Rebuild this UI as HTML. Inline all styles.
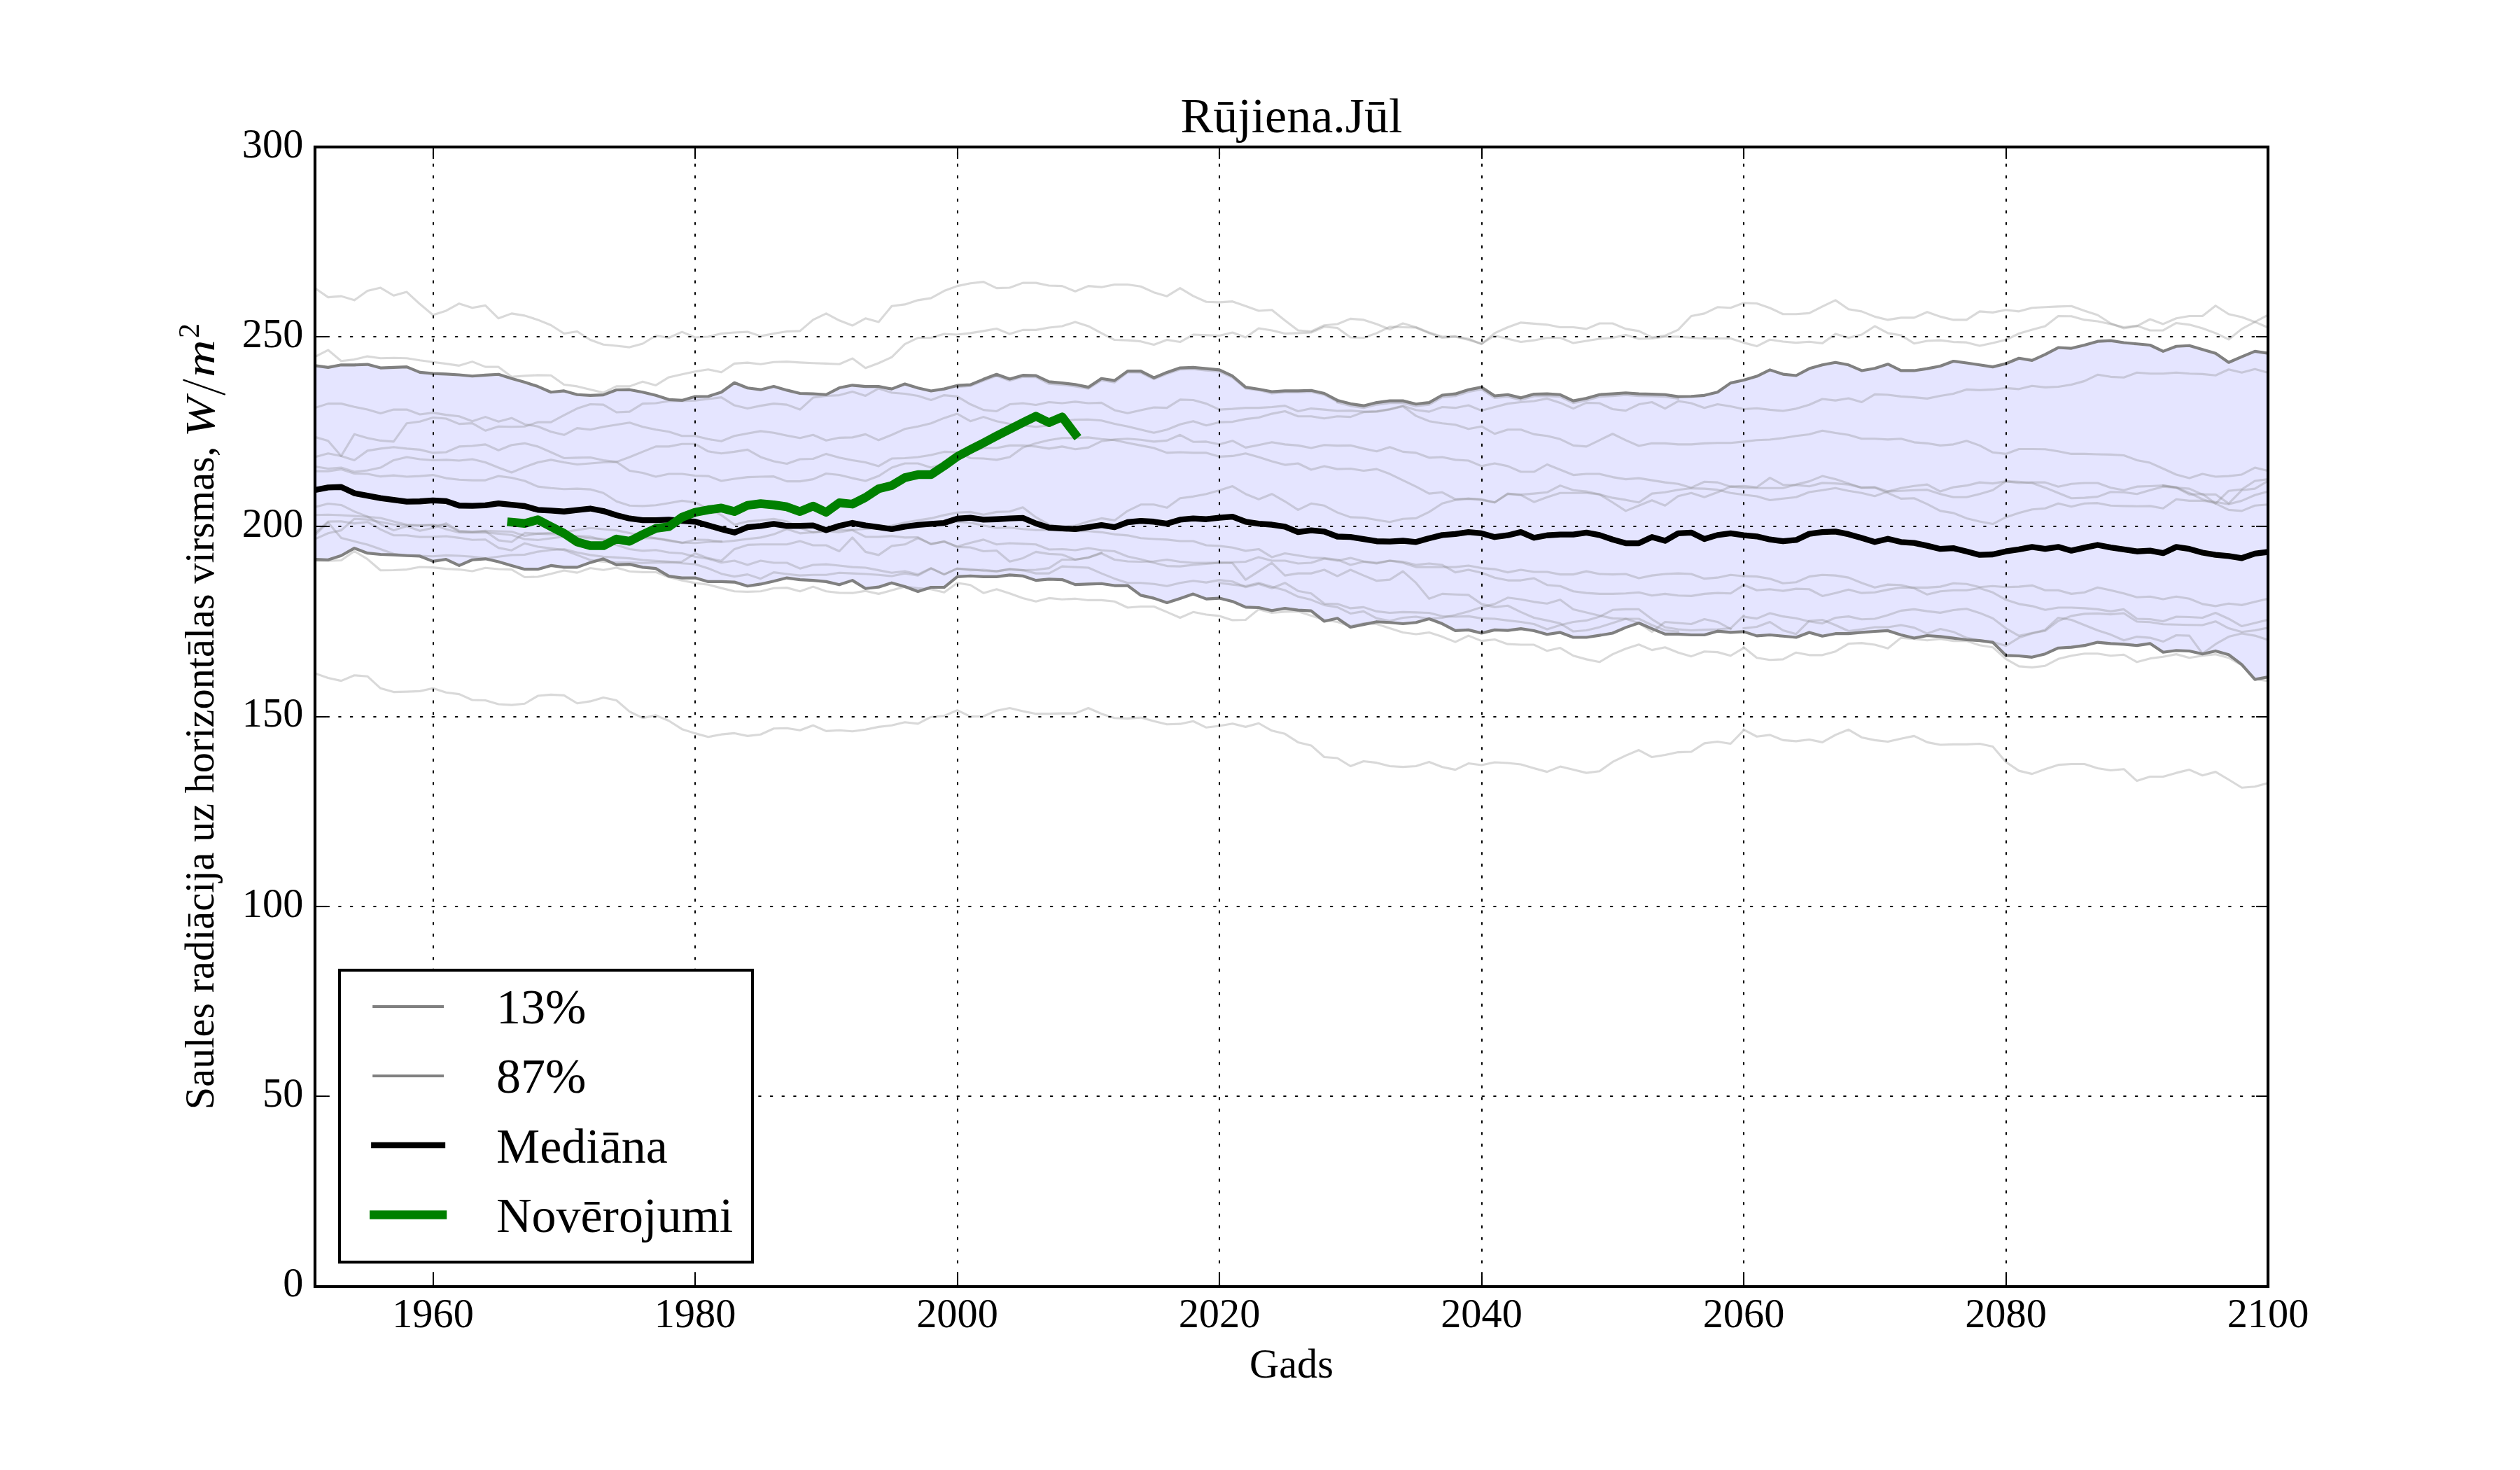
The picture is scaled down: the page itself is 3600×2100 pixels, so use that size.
<!DOCTYPE html>
<html><head><meta charset="utf-8"><title>Rujiena.Jul</title>
<style>html,body{margin:0;padding:0;background:#fff;overflow:hidden;}svg{display:block;}text{-webkit-font-smoothing:antialiased;}.ylab{filter:grayscale(1);}</style>
</head><body>
<svg width="3600" height="2100" viewBox="0 0 3600 2100">
<rect width="3600" height="2100" fill="#fff"/>
<defs><clipPath id="ax"><rect x="450.00" y="210.00" width="2790.00" height="1627.50"/></clipPath></defs>
<g clip-path="url(#ax)">
<path d="M450.00,522.36 L468.72,524.84 L487.45,521.30 L506.17,521.30 L524.90,520.60 L543.62,525.55 L562.35,524.84 L581.07,524.13 L599.80,531.92 L618.52,533.69 L637.25,534.39 L655.97,535.46 L674.70,537.23 L693.42,535.81 L712.15,534.75 L730.87,540.76 L749.60,546.07 L768.32,552.09 L787.05,560.22 L805.77,558.45 L824.50,563.76 L843.22,564.82 L861.95,564.12 L880.67,557.04 L899.40,556.69 L918.12,560.22 L936.85,564.82 L955.57,570.84 L974.30,571.90 L993.02,566.59 L1011.74,566.24 L1030.47,560.22 L1049.19,546.78 L1067.92,554.21 L1086.64,556.69 L1105.37,552.09 L1124.09,557.39 L1142.82,561.99 L1161.54,562.70 L1180.27,563.76 L1198.99,554.03 L1217.72,550.32 L1236.44,552.09 L1255.17,552.09 L1273.89,555.62 L1292.62,548.55 L1311.34,554.21 L1330.07,558.45 L1348.79,555.62 L1367.52,550.67 L1386.24,549.61 L1404.97,541.82 L1423.69,534.75 L1442.42,541.47 L1461.14,536.16 L1479.87,536.52 L1498.59,545.36 L1517.32,547.13 L1536.04,549.26 L1554.77,553.15 L1573.49,540.76 L1592.21,543.59 L1610.94,530.15 L1629.66,530.15 L1648.39,539.70 L1667.11,531.92 L1685.84,525.55 L1704.56,524.84 L1723.29,526.61 L1742.01,528.38 L1760.74,537.23 L1779.46,553.15 L1798.19,555.98 L1816.91,559.52 L1835.64,558.45 L1854.36,558.45 L1873.09,557.75 L1891.81,561.99 L1910.54,571.90 L1929.26,576.85 L1947.99,579.68 L1966.71,575.08 L1985.44,572.61 L2004.16,572.61 L2022.89,577.21 L2041.61,575.08 L2060.34,564.47 L2079.06,562.70 L2097.79,556.69 L2116.51,553.15 L2135.23,565.53 L2153.96,563.76 L2172.68,568.36 L2191.41,563.05 L2210.13,562.70 L2228.86,563.76 L2247.58,572.61 L2266.31,569.07 L2285.03,563.76 L2303.76,562.70 L2322.48,561.28 L2341.21,562.70 L2359.93,563.05 L2378.66,563.76 L2397.38,566.59 L2416.11,566.24 L2434.83,564.82 L2453.56,560.22 L2472.28,547.13 L2491.01,543.06 L2509.73,537.58 L2528.46,528.38 L2547.18,534.57 L2565.91,536.52 L2584.63,526.61 L2603.36,521.30 L2622.08,517.77 L2640.81,521.30 L2659.53,529.44 L2678.26,526.26 L2696.98,520.24 L2715.70,529.44 L2734.43,529.44 L2753.15,526.61 L2771.88,523.07 L2790.60,516.00 L2809.33,518.47 L2828.05,521.30 L2846.78,524.13 L2865.50,519.53 L2884.23,511.75 L2902.95,514.93 L2921.68,506.44 L2940.40,496.54 L2959.13,497.60 L2977.85,493.00 L2996.58,487.69 L3015.30,486.63 L3034.03,489.46 L3052.75,491.23 L3071.48,493.00 L3090.20,501.84 L3108.93,494.77 L3127.65,493.71 L3146.38,499.37 L3165.10,504.67 L3183.83,517.77 L3202.55,509.63 L3221.28,501.84 L3240.00,504.67 L3240.00,967.11 L3221.28,970.65 L3202.55,949.42 L3183.83,935.27 L3165.10,929.96 L3146.38,934.21 L3127.65,929.96 L3108.93,929.26 L3090.20,931.73 L3071.48,919.35 L3052.75,922.18 L3034.03,920.41 L3015.30,919.35 L2996.58,917.58 L2977.85,922.18 L2959.13,924.66 L2940.40,925.72 L2921.68,934.21 L2902.95,938.81 L2884.23,937.04 L2865.50,936.33 L2846.78,917.58 L2828.05,915.10 L2809.33,914.04 L2790.60,911.56 L2771.88,909.44 L2753.15,908.03 L2734.43,911.56 L2715.70,906.96 L2696.98,900.95 L2678.26,902.01 L2659.53,903.43 L2640.81,905.20 L2622.08,905.20 L2603.36,908.73 L2584.63,903.43 L2565.91,910.50 L2547.18,908.73 L2528.46,906.96 L2509.73,908.38 L2491.01,902.36 L2472.28,903.43 L2453.56,901.66 L2434.83,906.96 L2416.11,906.96 L2397.38,905.90 L2378.66,905.90 L2359.93,898.12 L2341.21,889.98 L2322.48,896.35 L2303.76,904.49 L2285.03,907.67 L2266.31,910.50 L2247.58,910.50 L2228.86,903.43 L2210.13,906.26 L2191.41,900.95 L2172.68,898.12 L2153.96,900.60 L2135.23,899.89 L2116.51,904.49 L2097.79,899.89 L2079.06,900.95 L2060.34,891.04 L2041.61,883.97 L2022.89,889.27 L2004.16,891.04 L1985.44,889.27 L1966.71,888.21 L1947.99,892.10 L1929.26,896.00 L1910.54,883.26 L1891.81,887.50 L1873.09,872.64 L1854.36,871.58 L1835.64,869.11 L1816.91,872.29 L1798.19,868.04 L1779.46,867.34 L1760.74,859.20 L1742.01,854.60 L1723.29,855.66 L1704.56,848.58 L1685.84,854.95 L1667.11,860.97 L1648.39,854.60 L1629.66,850.35 L1610.94,836.55 L1592.21,836.55 L1573.49,833.72 L1554.77,834.43 L1536.04,835.14 L1517.32,828.06 L1498.59,827.36 L1479.87,829.12 L1461.14,822.76 L1442.42,821.34 L1423.69,823.82 L1404.97,823.82 L1386.24,822.76 L1367.52,823.82 L1348.79,839.03 L1330.07,839.03 L1311.34,845.05 L1292.62,837.97 L1273.89,832.66 L1255.17,838.68 L1236.44,840.80 L1217.72,829.12 L1198.99,835.32 L1180.27,830.89 L1161.54,829.12 L1142.82,828.06 L1124.09,825.59 L1105.37,830.19 L1086.64,834.43 L1067.92,837.26 L1049.19,831.60 L1030.47,830.89 L1011.74,830.89 L993.02,825.59 L974.30,825.59 L955.57,823.11 L936.85,812.14 L918.12,810.37 L899.40,806.13 L880.67,806.83 L861.95,798.34 L843.22,803.65 L824.50,810.37 L805.77,810.37 L787.05,807.90 L768.32,813.20 L749.60,813.20 L730.87,807.90 L712.15,802.59 L693.42,798.34 L674.70,799.76 L655.97,807.90 L637.25,799.05 L618.52,801.88 L599.80,794.45 L581.07,793.74 L562.35,792.68 L543.62,791.97 L524.90,790.20 L506.17,783.13 L487.45,793.74 L468.72,799.76 L450.00,799.05 Z" fill="#0000ff" fill-opacity="0.1" stroke="none"/>
<path d="M450.00,411.67 L468.72,424.63 L487.45,423.13 L506.17,428.86 L524.90,415.59 L543.62,411.06 L562.35,422.22 L581.07,417.10 L599.80,434.29 L618.52,449.97 L637.25,443.94 L655.97,433.68 L674.70,439.71 L693.42,436.40 L712.15,454.79 L730.87,447.86 L749.60,450.87 L768.32,456.90 L787.05,464.44 L805.77,476.51 L824.50,473.49 L843.22,485.56 L861.95,492.19 L880.67,494.00 L899.40,496.11 L918.12,490.98 L936.85,479.52 L955.57,482.54 L974.30,474.10 L993.02,481.94 L1011.74,481.03 L1030.47,476.51 L1049.19,475.00 L1067.92,474.10 L1086.64,480.13 L1105.37,476.51 L1124.09,473.49 L1142.82,472.89 L1161.54,456.90 L1180.27,447.86 L1198.99,457.81 L1217.72,465.05 L1236.44,454.79 L1255.17,459.92 L1273.89,437.30 L1292.62,434.89 L1311.34,428.86 L1330.07,425.84 L1348.79,415.59 L1367.52,408.65 L1386.24,404.73 L1404.97,402.62 L1423.69,411.67 L1442.42,411.06 L1461.14,404.13 L1479.87,404.13 L1498.59,408.05 L1517.32,408.65 L1536.04,416.19 L1554.77,408.65 L1573.49,410.16 L1592.21,406.54 L1610.94,406.54 L1629.66,409.25 L1648.39,417.70 L1667.11,423.13 L1685.84,411.67 L1704.56,422.83 L1723.29,431.27 L1742.01,431.87 L1760.74,430.67 L1779.46,437.30 L1798.19,443.94 L1816.91,442.73 L1835.64,457.81 L1854.36,471.98 L1873.09,473.49 L1891.81,464.75 L1910.54,462.94 L1929.26,455.40 L1947.99,456.90 L1966.71,462.94 L1985.44,470.48 L2004.16,462.03 L2022.89,467.46 L2041.61,475.00 L2060.34,481.03 L2079.06,480.43 L2097.79,484.05 L2116.51,491.59 L2135.23,475.90 L2153.96,467.46 L2172.68,460.83 L2191.41,462.33 L2210.13,463.84 L2228.86,467.46 L2247.58,467.46 L2266.31,469.87 L2285.03,462.03 L2303.76,462.03 L2322.48,469.87 L2341.21,472.89 L2359.93,481.94 L2378.66,479.52 L2397.38,471.08 L2416.11,451.48 L2434.83,447.86 L2453.56,438.81 L2472.28,439.71 L2491.01,432.78 L2509.73,433.53 L2528.46,440.02 L2547.18,448.76 L2565.91,448.76 L2584.63,447.40 L2603.36,437.90 L2622.08,428.86 L2640.81,441.83 L2659.53,444.84 L2678.26,452.38 L2696.98,456.90 L2715.70,453.89 L2734.43,453.89 L2753.15,445.75 L2771.88,452.38 L2790.60,456.90 L2809.33,456.90 L2828.05,444.84 L2846.78,446.35 L2865.50,442.73 L2884.23,444.84 L2902.95,439.71 L2921.68,438.81 L2940.40,437.90 L2959.13,437.30 L2977.85,443.94 L2996.58,449.97 L3015.30,462.03 L3034.03,468.97 L3052.75,465.95 L3071.48,456.00 L3090.20,462.94 L3108.93,454.79 L3127.65,451.48 L3146.38,451.48 L3165.10,436.70 L3183.83,448.76 L3202.55,452.98 L3221.28,459.92 L3240.00,468.06" fill="none" stroke="#808080" stroke-opacity="0.3" stroke-width="3.125" stroke-linejoin="round" stroke-linecap="square"/>
<path d="M450.00,509.68 L468.72,500.03 L487.45,515.71 L506.17,513.60 L524.90,509.08 L543.62,511.79 L562.35,511.19 L581.07,511.79 L599.80,514.81 L618.52,517.22 L637.25,519.63 L655.97,522.35 L674.70,516.62 L693.42,524.16 L712.15,524.16 L730.87,538.33 L749.60,536.83 L768.32,535.92 L787.05,536.22 L805.77,549.49 L824.50,551.90 L843.22,556.43 L861.95,560.95 L880.67,551.90 L899.40,551.90 L918.12,545.27 L936.85,550.40 L955.57,538.94 L974.30,534.71 L993.02,530.79 L1011.74,527.78 L1030.47,531.70 L1049.19,519.33 L1067.92,518.13 L1086.64,520.24 L1105.37,517.22 L1124.09,516.62 L1142.82,517.83 L1161.54,518.73 L1180.27,519.33 L1198.99,520.24 L1217.72,512.10 L1236.44,525.67 L1255.17,518.73 L1273.89,510.29 L1292.62,491.59 L1311.34,482.54 L1330.07,482.54 L1348.79,477.11 L1367.52,478.02 L1386.24,475.90 L1404.97,472.89 L1423.69,469.57 L1442.42,477.11 L1461.14,471.38 L1479.87,471.38 L1498.59,468.06 L1517.32,465.95 L1536.04,459.92 L1554.77,465.95 L1573.49,475.90 L1592.21,485.56 L1610.94,486.16 L1629.66,487.67 L1648.39,492.49 L1667.11,485.56 L1685.84,488.57 L1704.56,478.02 L1723.29,478.92 L1742.01,479.52 L1760.74,475.00 L1779.46,481.94 L1798.19,468.97 L1816.91,471.98 L1835.64,476.51 L1854.36,475.90 L1873.09,475.00 L1891.81,466.71 L1910.54,468.52 L1929.26,481.94 L1947.99,482.54 L1966.71,475.90 L1985.44,466.86 L2004.16,467.46 L2022.89,468.06 L2041.61,475.90 L2060.34,482.54 L2079.06,481.03 L2097.79,485.56 L2116.51,490.98 L2135.23,479.52 L2153.96,484.05 L2172.68,488.57 L2191.41,486.16 L2210.13,482.54 L2228.86,482.54 L2247.58,490.08 L2266.31,487.06 L2285.03,484.05 L2303.76,482.54 L2322.48,478.62 L2341.21,484.05 L2359.93,483.44 L2378.66,481.03 L2397.38,481.03 L2416.11,482.54 L2434.83,483.44 L2453.56,483.44 L2472.28,483.44 L2491.01,489.63 L2509.73,494.60 L2528.46,485.25 L2547.18,487.97 L2565.91,489.63 L2584.63,488.27 L2603.36,490.38 L2622.08,477.11 L2640.81,482.54 L2659.53,478.02 L2678.26,465.95 L2696.98,475.90 L2715.70,478.92 L2734.43,490.68 L2753.15,487.06 L2771.88,486.16 L2790.60,488.57 L2809.33,489.17 L2828.05,494.00 L2846.78,490.08 L2865.50,485.56 L2884.23,476.51 L2902.95,471.08 L2921.68,465.95 L2940.40,451.48 L2959.13,451.78 L2977.85,456.90 L2996.58,459.02 L3015.30,462.94 L3034.03,467.46 L3052.75,465.35 L3071.48,471.98 L3090.20,471.98 L3108.93,461.43 L3127.65,463.84 L3146.38,468.97 L3165.10,475.90 L3183.83,484.95 L3202.55,469.87 L3221.28,459.92 L3240.00,449.97" fill="none" stroke="#808080" stroke-opacity="0.3" stroke-width="3.125" stroke-linejoin="round" stroke-linecap="square"/>
<path d="M450.00,582.67 L468.72,576.63 L487.45,576.63 L506.17,581.16 L524.90,585.08 L543.62,590.51 L562.35,585.08 L581.07,585.08 L599.80,592.02 L618.52,589.60 L637.25,592.62 L655.97,594.73 L674.70,601.67 L693.42,595.63 L712.15,602.27 L730.87,597.14 L749.60,606.19 L768.32,609.21 L787.05,616.75 L805.77,621.27 L824.50,611.62 L843.22,613.73 L861.95,609.81 L880.67,606.79 L899.40,603.78 L918.12,609.81 L936.85,613.73 L955.57,616.75 L974.30,622.78 L993.02,622.78 L1011.74,627.30 L1030.47,630.32 L1049.19,622.78 L1067.92,619.16 L1086.64,615.84 L1105.37,618.25 L1124.09,622.17 L1142.82,625.79 L1161.54,621.27 L1180.27,629.26 L1198.99,625.34 L1217.72,624.89 L1236.44,620.37 L1255.17,628.81 L1273.89,621.27 L1292.62,612.83 L1311.34,609.21 L1330.07,604.68 L1348.79,597.14 L1367.52,591.11 L1386.24,601.67 L1404.97,595.63 L1423.69,601.67 L1442.42,605.59 L1461.14,607.70 L1479.87,609.81 L1498.59,607.70 L1517.32,601.67 L1536.04,599.56 L1554.77,599.25 L1573.49,600.76 L1592.21,605.59 L1610.94,609.21 L1629.66,613.73 L1648.39,618.25 L1667.11,613.73 L1685.84,606.19 L1704.56,601.67 L1723.29,607.70 L1742.01,603.17 L1760.74,602.57 L1779.46,598.65 L1798.19,596.54 L1816.91,591.11 L1835.64,587.49 L1854.36,594.73 L1873.09,594.73 L1891.81,597.75 L1910.54,594.73 L1929.26,595.63 L1947.99,588.70 L1966.71,588.10 L1985.44,585.08 L2004.16,580.56 L2022.89,594.13 L2041.61,601.67 L2060.34,604.68 L2079.06,606.79 L2097.79,612.83 L2116.51,609.21 L2135.23,619.76 L2153.96,613.73 L2172.68,613.73 L2191.41,620.37 L2210.13,622.78 L2228.86,627.30 L2247.58,636.35 L2266.31,637.86 L2285.03,628.81 L2303.76,619.76 L2322.48,628.81 L2341.21,636.95 L2359.93,633.33 L2378.66,633.33 L2397.38,634.84 L2416.11,634.84 L2434.83,633.33 L2453.56,632.73 L2472.28,632.73 L2491.01,630.92 L2509.73,628.81 L2528.46,628.06 L2547.18,625.79 L2565.91,622.78 L2584.63,620.52 L2603.36,615.24 L2622.08,618.56 L2640.81,621.27 L2659.53,626.70 L2678.26,626.70 L2696.98,627.90 L2715.70,626.70 L2734.43,631.83 L2753.15,633.33 L2771.88,636.35 L2790.60,634.84 L2809.33,629.71 L2828.05,636.35 L2846.78,646.30 L2865.50,648.41 L2884.23,641.48 L2902.95,641.48 L2921.68,641.78 L2940.40,644.79 L2959.13,648.41 L2977.85,648.41 L2996.58,649.02 L3015.30,649.32 L3034.03,650.52 L3052.75,657.46 L3071.48,661.08 L3090.20,669.52 L3108.93,677.97 L3127.65,683.10 L3146.38,677.06 L3165.10,680.98 L3183.83,680.08 L3202.55,677.97 L3221.28,668.02 L3240.00,672.54" fill="none" stroke="#808080" stroke-opacity="0.3" stroke-width="3.125" stroke-linejoin="round" stroke-linecap="square"/>
<path d="M450.00,624.29 L468.72,629.71 L487.45,651.43 L506.17,620.37 L524.90,625.79 L543.62,629.41 L562.35,630.92 L581.07,604.68 L599.80,602.27 L618.52,596.54 L637.25,598.05 L655.97,605.59 L674.70,604.68 L693.42,615.24 L712.15,609.21 L730.87,609.81 L749.60,609.21 L768.32,603.17 L787.05,603.17 L805.77,593.22 L824.50,583.57 L843.22,577.54 L861.95,578.14 L880.67,589.00 L899.40,588.10 L918.12,576.63 L936.85,576.03 L955.57,573.02 L974.30,573.02 L993.02,572.11 L1011.74,570.00 L1030.47,567.59 L1049.19,579.05 L1067.92,583.57 L1086.64,579.65 L1105.37,576.63 L1124.09,578.14 L1142.82,585.08 L1161.54,568.04 L1180.27,565.48 L1198.99,564.57 L1217.72,559.44 L1236.44,565.48 L1255.17,554.92 L1273.89,560.95 L1292.62,562.46 L1311.34,565.48 L1330.07,571.51 L1348.79,564.57 L1367.52,566.38 L1386.24,577.54 L1404.97,585.68 L1423.69,587.49 L1442.42,577.54 L1461.14,576.03 L1479.87,578.44 L1498.59,574.52 L1517.32,576.03 L1536.04,573.92 L1554.77,576.03 L1573.49,575.43 L1592.21,585.98 L1610.94,590.21 L1629.66,585.98 L1648.39,582.06 L1667.11,582.67 L1685.84,570.90 L1704.56,571.51 L1723.29,576.63 L1742.01,585.08 L1760.74,584.17 L1779.46,582.67 L1798.19,582.67 L1816.91,581.46 L1835.64,579.65 L1854.36,587.49 L1873.09,583.57 L1891.81,585.08 L1910.54,587.04 L1929.26,586.59 L1947.99,588.10 L1966.71,587.49 L1985.44,584.48 L2004.16,579.65 L2022.89,585.68 L2041.61,588.10 L2060.34,581.46 L2079.06,582.67 L2097.79,579.05 L2116.51,586.59 L2135.23,581.46 L2153.96,576.63 L2172.68,574.52 L2191.41,573.02 L2210.13,569.40 L2228.86,575.43 L2247.58,583.57 L2266.31,575.43 L2285.03,576.03 L2303.76,584.48 L2322.48,586.59 L2341.21,577.54 L2359.93,574.52 L2378.66,583.57 L2397.38,573.02 L2416.11,576.03 L2434.83,582.67 L2453.56,577.54 L2472.28,580.56 L2491.01,584.48 L2509.73,583.27 L2528.46,585.38 L2547.18,587.04 L2565.91,583.87 L2584.63,578.29 L2603.36,570.00 L2622.08,572.11 L2640.81,568.94 L2659.53,574.52 L2678.26,563.37 L2696.98,563.97 L2715.70,566.38 L2734.43,567.59 L2753.15,569.40 L2771.88,565.48 L2790.60,562.46 L2809.33,556.43 L2828.05,557.33 L2846.78,556.43 L2865.50,554.32 L2884.23,555.83 L2902.95,551.30 L2921.68,553.41 L2940.40,552.51 L2959.13,549.49 L2977.85,544.37 L2996.58,535.32 L3015.30,538.33 L3034.03,539.24 L3052.75,532.30 L3071.48,533.81 L3090.20,533.81 L3108.93,532.30 L3127.65,533.81 L3146.38,534.41 L3165.10,536.22 L3183.83,527.78 L3202.55,532.30 L3221.28,527.17 L3240.00,532.30" fill="none" stroke="#808080" stroke-opacity="0.3" stroke-width="3.125" stroke-linejoin="round" stroke-linecap="square"/>
<path d="M450.00,652.94 L468.72,647.81 L487.45,651.43 L506.17,657.46 L524.90,643.89 L543.62,640.87 L562.35,638.76 L581.07,640.87 L599.80,642.38 L618.52,646.90 L637.25,646.00 L655.97,637.86 L674.70,636.95 L693.42,634.84 L712.15,643.29 L730.87,635.75 L749.60,633.33 L768.32,637.86 L787.05,646.00 L805.77,654.44 L824.50,653.84 L843.22,653.54 L861.95,657.46 L880.67,659.87 L899.40,672.54 L918.12,675.56 L936.85,680.98 L955.57,677.06 L974.30,677.06 L993.02,679.48 L1011.74,680.08 L1030.47,687.02 L1049.19,684.00 L1067.92,681.59 L1086.64,680.98 L1105.37,680.68 L1124.09,687.62 L1142.82,687.62 L1161.54,684.60 L1180.27,676.46 L1198.99,678.57 L1217.72,683.10 L1236.44,687.02 L1255.17,680.08 L1273.89,668.02 L1292.62,661.98 L1311.34,661.98 L1330.07,668.02 L1348.79,661.98 L1367.52,652.94 L1386.24,645.40 L1404.97,639.97 L1423.69,639.97 L1442.42,636.35 L1461.14,636.35 L1479.87,637.86 L1498.59,640.87 L1517.32,637.86 L1536.04,641.78 L1554.77,639.37 L1573.49,630.32 L1592.21,627.90 L1610.94,626.70 L1629.66,628.21 L1648.39,630.92 L1667.11,629.41 L1685.84,621.27 L1704.56,631.22 L1723.29,630.92 L1742.01,634.84 L1760.74,629.71 L1779.46,639.37 L1798.19,635.75 L1816.91,631.83 L1835.64,634.84 L1854.36,636.35 L1873.09,639.97 L1891.81,635.75 L1910.54,636.65 L1929.26,636.35 L1947.99,640.87 L1966.71,644.79 L1985.44,638.76 L2004.16,645.40 L2022.89,646.90 L2041.61,653.84 L2060.34,652.94 L2079.06,656.86 L2097.79,658.06 L2116.51,665.90 L2135.23,661.98 L2153.96,665.90 L2172.68,674.05 L2191.41,674.05 L2210.13,663.49 L2228.86,671.03 L2247.58,678.57 L2266.31,677.06 L2285.03,677.06 L2303.76,681.59 L2322.48,684.60 L2341.21,683.10 L2359.93,686.11 L2378.66,689.13 L2397.38,691.24 L2416.11,696.67 L2434.83,688.22 L2453.56,689.13 L2472.28,695.16 L2491.01,696.67 L2509.73,697.27 L2528.46,697.27 L2547.18,697.27 L2565.91,692.14 L2584.63,687.62 L2603.36,680.08 L2622.08,684.60 L2640.81,690.63 L2659.53,696.67 L2678.26,696.06 L2696.98,702.10 L2715.70,701.19 L2734.43,700.29 L2753.15,699.68 L2771.88,705.71 L2790.60,710.24 L2809.33,710.24 L2828.05,705.71 L2846.78,700.29 L2865.50,687.62 L2884.23,688.22 L2902.95,690.03 L2921.68,696.67 L2940.40,704.21 L2959.13,711.75 L2977.85,711.14 L2996.58,709.63 L3015.30,702.70 L3034.03,703.30 L3052.75,705.71 L3071.48,700.29 L3090.20,695.16 L3108.93,696.67 L3127.65,706.32 L3146.38,705.71 L3165.10,719.29 L3183.83,701.19 L3202.55,699.08 L3221.28,687.02 L3240.00,684.60" fill="none" stroke="#808080" stroke-opacity="0.3" stroke-width="3.125" stroke-linejoin="round" stroke-linecap="square"/>
<path d="M450.00,666.51 L468.72,669.52 L487.45,668.02 L506.17,674.05 L524.90,671.94 L543.62,668.02 L562.35,657.46 L581.07,652.94 L599.80,655.95 L618.52,657.46 L637.25,656.86 L655.97,658.06 L674.70,655.95 L693.42,660.48 L712.15,668.02 L730.87,674.95 L749.60,667.11 L768.32,660.48 L787.05,656.86 L805.77,660.48 L824.50,663.49 L843.22,661.98 L861.95,660.48 L880.67,659.87 L899.40,652.94 L918.12,645.40 L936.85,637.86 L955.57,637.86 L974.30,634.24 L993.02,634.24 L1011.74,644.79 L1030.47,647.81 L1049.19,645.40 L1067.92,642.38 L1086.64,652.94 L1105.37,658.97 L1124.09,662.59 L1142.82,655.95 L1161.54,655.50 L1180.27,648.41 L1198.99,653.69 L1217.72,657.46 L1236.44,660.48 L1255.17,665.90 L1273.89,655.05 L1292.62,654.44 L1311.34,652.94 L1330.07,649.92 L1348.79,645.40 L1367.52,646.00 L1386.24,654.44 L1404.97,655.05 L1423.69,656.86 L1442.42,652.94 L1461.14,639.37 L1479.87,633.33 L1498.59,628.81 L1517.32,625.79 L1536.04,625.79 L1554.77,624.89 L1573.49,627.30 L1592.21,628.81 L1610.94,632.73 L1629.66,636.35 L1648.39,639.97 L1667.11,646.90 L1685.84,646.00 L1704.56,646.90 L1723.29,646.90 L1742.01,652.33 L1760.74,651.43 L1779.46,647.81 L1798.19,652.94 L1816.91,658.97 L1835.64,664.10 L1854.36,661.98 L1873.09,671.03 L1891.81,665.90 L1910.54,670.13 L1929.26,669.52 L1947.99,672.54 L1966.71,670.13 L1985.44,677.06 L2004.16,686.11 L2022.89,695.16 L2041.61,705.11 L2060.34,703.30 L2079.06,713.25 L2097.79,712.35 L2116.51,713.25 L2135.23,717.78 L2153.96,705.71 L2172.68,706.62 L2191.41,705.11 L2210.13,703.30 L2228.86,693.65 L2247.58,700.29 L2266.31,702.10 L2285.03,706.32 L2303.76,717.78 L2322.48,729.84 L2341.21,722.30 L2359.93,714.76 L2378.66,722.30 L2397.38,708.73 L2416.11,704.21 L2434.83,710.24 L2453.56,703.30 L2472.28,695.16 L2491.01,694.40 L2509.73,696.06 L2528.46,682.64 L2547.18,692.60 L2565.91,692.90 L2584.63,694.71 L2603.36,689.88 L2622.08,690.63 L2640.81,692.14 L2659.53,696.67 L2678.26,696.67 L2696.98,704.21 L2715.70,712.35 L2734.43,711.75 L2753.15,720.19 L2771.88,729.84 L2790.60,732.86 L2809.33,740.40 L2828.05,744.92 L2846.78,748.54 L2865.50,738.89 L2884.23,732.86 L2902.95,727.73 L2921.68,726.22 L2940.40,719.29 L2959.13,723.81 L2977.85,719.29 L2996.58,718.68 L3015.30,722.30 L3034.03,722.90 L3052.75,723.21 L3071.48,722.90 L3090.20,726.22 L3108.93,713.25 L3127.65,715.37 L3146.38,715.37 L3165.10,717.17 L3183.83,720.19 L3202.55,715.37 L3221.28,707.22 L3240.00,702.10" fill="none" stroke="#808080" stroke-opacity="0.3" stroke-width="3.125" stroke-linejoin="round" stroke-linecap="square"/>
<path d="M450.00,673.14 L468.72,673.14 L487.45,670.43 L506.17,676.46 L524.90,677.06 L543.62,680.68 L562.35,679.17 L581.07,680.98 L599.80,680.08 L618.52,678.57 L637.25,683.10 L655.97,685.21 L674.70,686.11 L693.42,686.11 L712.15,680.08 L730.87,682.49 L749.60,687.02 L768.32,695.16 L787.05,697.27 L805.77,698.78 L824.50,698.17 L843.22,699.08 L861.95,704.21 L880.67,716.27 L899.40,722.30 L918.12,722.90 L936.85,721.70 L955.57,718.68 L974.30,715.37 L993.02,717.78 L1011.74,726.83 L1030.47,735.87 L1049.19,749.44 L1067.92,744.92 L1086.64,743.41 L1105.37,741.30 L1124.09,744.92 L1142.82,753.97 L1161.54,760.60 L1180.27,758.49 L1198.99,756.98 L1217.72,756.98 L1236.44,755.48 L1255.17,753.97 L1273.89,750.95 L1292.62,746.43 L1311.34,743.41 L1330.07,740.40 L1348.79,735.87 L1367.52,732.25 L1386.24,731.35 L1404.97,735.27 L1423.69,731.35 L1442.42,730.75 L1461.14,724.71 L1479.87,738.89 L1498.59,749.44 L1517.32,752.46 L1536.04,750.95 L1554.77,744.92 L1573.49,740.40 L1592.21,743.41 L1610.94,729.84 L1629.66,720.79 L1648.39,720.79 L1667.11,725.32 L1685.84,711.75 L1704.56,709.33 L1723.29,705.71 L1742.01,700.59 L1760.74,694.56 L1779.46,705.71 L1798.19,713.25 L1816.91,705.71 L1835.64,716.27 L1854.36,728.33 L1873.09,719.29 L1891.81,722.30 L1910.54,732.10 L1929.26,738.89 L1947.99,739.49 L1966.71,742.81 L1985.44,745.83 L2004.16,741.30 L2022.89,740.40 L2041.61,731.35 L2060.34,719.29 L2079.06,714.16 L2097.79,712.35 L2116.51,714.16 L2135.23,717.78 L2153.96,705.11 L2172.68,707.22 L2191.41,717.17 L2210.13,710.24 L2228.86,704.21 L2247.58,704.21 L2266.31,704.21 L2285.03,706.32 L2303.76,711.14 L2322.48,714.16 L2341.21,717.78 L2359.93,705.11 L2378.66,703.30 L2397.38,699.68 L2416.11,697.57 L2434.83,698.17 L2453.56,699.68 L2472.28,704.21 L2491.01,706.77 L2509.73,709.03 L2528.46,714.46 L2547.18,712.20 L2565.91,710.24 L2584.63,703.00 L2603.36,700.29 L2622.08,697.27 L2640.81,701.19 L2659.53,704.21 L2678.26,708.73 L2696.98,702.10 L2715.70,697.27 L2734.43,694.25 L2753.15,692.14 L2771.88,702.10 L2790.60,696.06 L2809.33,693.65 L2828.05,689.13 L2846.78,690.63 L2865.50,687.62 L2884.23,690.03 L2902.95,689.13 L2921.68,689.13 L2940.40,695.16 L2959.13,691.24 L2977.85,690.03 L2996.58,690.03 L3015.30,696.67 L3034.03,700.29 L3052.75,695.16 L3071.48,694.56 L3090.20,693.65 L3108.93,696.67 L3127.65,698.17 L3146.38,706.32 L3165.10,706.32 L3183.83,719.29 L3202.55,700.29 L3221.28,698.17 L3240.00,687.02" fill="none" stroke="#808080" stroke-opacity="0.3" stroke-width="3.125" stroke-linejoin="round" stroke-linecap="square"/>
<path d="M450.00,724.29 L468.72,719.52 L487.45,721.43 L506.17,730.71 L524.90,737.86 L543.62,748.81 L562.35,757.62 L581.07,751.67 L599.80,758.33 L618.52,754.29 L637.25,747.62 L655.97,758.33 L674.70,759.52 L693.42,758.33 L712.15,759.05 L730.87,759.52 L749.60,765.48 L768.32,762.38 L787.05,761.43 L805.77,760.00 L824.50,757.14 L843.22,754.29 L861.95,755.95 L880.67,757.62 L899.40,761.43 L918.12,765.48 L936.85,769.05 L955.57,771.43 L974.30,775.71 L993.02,770.95 L1011.74,771.39 L1030.47,774.30 L1049.19,772.38 L1067.92,769.97 L1086.64,767.86 L1105.37,763.33 L1124.09,755.79 L1142.82,761.83 L1161.54,760.32 L1180.27,758.81 L1198.99,760.32 L1217.72,757.30 L1236.44,766.95 L1255.17,766.95 L1273.89,765.75 L1292.62,767.86 L1311.34,767.56 L1330.07,777.51 L1348.79,773.29 L1367.52,781.43 L1386.24,782.03 L1404.97,787.46 L1423.69,786.56 L1442.42,802.24 L1461.14,797.41 L1479.87,788.37 L1498.59,791.38 L1517.32,792.29 L1536.04,799.52 L1554.77,796.51 L1573.49,789.57" fill="none" stroke="#808080" stroke-opacity="0.3" stroke-width="3.125" stroke-linejoin="round" stroke-linecap="square"/>
<path d="M450.00,735.71 L468.72,735.24 L487.45,735.95 L506.17,737.14 L524.90,738.33 L543.62,740.00 L562.35,745.00 L581.07,749.52 L599.80,750.24 L618.52,749.52 L637.25,755.95 L655.97,760.71 L674.70,760.95 L693.42,760.71 L712.15,762.38 L730.87,764.29 L749.60,770.24 L768.32,771.43 L787.05,769.05 L805.77,766.67 L824.50,767.14 L843.22,769.05 L861.95,770.24 L880.67,771.43 L899.40,770.95 L918.12,769.05 L936.85,769.05 L955.57,772.62 L974.30,775.00 L993.02,775.71 L1011.74,774.29 L1030.47,773.33" fill="none" stroke="#808080" stroke-opacity="0.3" stroke-width="3.125" stroke-linejoin="round" stroke-linecap="square"/>
<path d="M450.00,761.19 L468.72,745.12 L487.45,744.76 L506.17,747.86 L524.90,745.71 L543.62,756.43 L562.35,764.76 L581.07,764.76 L599.80,767.14 L618.52,766.90 L637.25,765.95 L655.97,768.33 L674.70,771.31 L693.42,770.71 L712.15,782.62 L730.87,786.19 L749.60,776.19 L768.32,780.95 L787.05,783.33 L805.77,785.71 L824.50,792.86 L843.22,800.00 L861.95,802.38 L880.67,803.57 L899.40,803.57 L918.12,804.29 L936.85,803.57 L955.57,803.57 L974.30,802.38 L993.02,790.48 L1011.74,797.38 L1030.47,801.27 L1049.19,784.44 L1067.92,778.41 L1086.64,777.81 L1105.37,777.81 L1124.09,777.81 L1142.82,772.98 L1161.54,779.02 L1180.27,779.02 L1198.99,787.46 L1217.72,767.86 L1236.44,788.37 L1255.17,792.89 L1273.89,779.92 L1292.62,777.81 L1311.34,768.76 L1330.07,776.90 L1348.79,773.89 L1367.52,780.83 L1386.24,775.40 L1404.97,770.87 L1423.69,777.81 L1442.42,776.00 L1461.14,776.90 L1479.87,777.81 L1498.59,785.05 L1517.32,784.44 L1536.04,785.95 L1554.77,782.94 L1573.49,785.95 L1592.21,787.46 L1610.94,795.00 L1629.66,798.92 L1648.39,804.05 L1667.11,808.57 L1685.84,809.17 L1704.56,807.06 L1723.29,805.56 L1742.01,804.05 L1760.74,803.29 L1779.46,802.54 L1798.19,795.90 L1816.91,801.03 L1835.64,801.03 L1854.36,804.95 L1873.09,804.05 L1891.81,798.02 L1910.54,801.03 L1929.26,797.11 L1947.99,801.94 L1966.71,804.05 L1985.44,801.03 L2004.16,802.54 L2022.89,807.06 L2041.61,804.95 L2060.34,807.06 L2079.06,817.62 L2097.79,814.00 L2116.51,818.22 L2135.23,825.16 L2153.96,829.08 L2172.68,829.08 L2191.41,826.06 L2210.13,835.71 L2228.86,837.22 L2247.58,844.76 L2266.31,847.17 L2285.03,848.38 L2303.76,848.38 L2322.48,847.78 L2341.21,846.27 L2359.93,850.79 L2378.66,848.38 L2397.38,850.79 L2416.11,851.40 L2434.83,848.38 L2453.56,847.17 L2472.28,847.78 L2491.01,835.71" fill="none" stroke="#808080" stroke-opacity="0.3" stroke-width="3.125" stroke-linejoin="round" stroke-linecap="square"/>
<path d="M450.00,770.12 L468.72,761.79 L487.45,757.62 L506.17,741.19 L524.90,742.14 L543.62,745.71 L562.35,749.29 L581.07,750.48 L599.80,751.07 L618.52,750.24 L637.25,749.88 L655.97,759.40 L674.70,760.00 L693.42,759.05 L712.15,771.90 L730.87,774.29 L749.60,761.43 L768.32,762.38 L787.05,763.10 L805.77,764.29 L824.50,765.48 L843.22,766.67 L861.95,771.43 L880.67,778.57 L899.40,784.52 L918.12,786.90 L936.85,785.71 L955.57,789.29 L974.30,790.48 L993.02,795.24 L1011.74,798.25 L1030.47,803.65 L1049.19,801.03 L1067.92,807.06 L1086.64,801.03 L1105.37,804.05 L1124.09,804.05 L1142.82,812.19 L1161.54,807.06 L1180.27,806.16 L1198.99,807.97 L1217.72,810.08 L1236.44,810.98 L1255.17,814.60 L1273.89,818.22 L1292.62,816.11 L1311.34,820.63 L1330.07,811.59 L1348.79,820.63 L1367.52,812.19 L1386.24,814.60 L1404.97,814.00 L1423.69,816.11 L1442.42,813.10 L1461.14,814.60 L1479.87,814.00 L1498.59,811.59 L1517.32,799.52 L1536.04,799.52 L1554.77,796.51 L1573.49,790.48 L1592.21,799.52 L1610.94,801.94 L1629.66,802.54 L1648.39,801.94 L1667.11,799.52 L1685.84,802.54 L1704.56,804.05 L1723.29,804.05 L1742.01,803.75 L1760.74,804.50 L1779.46,828.17 L1798.19,816.11 L1816.91,804.05 L1835.64,822.14 L1854.36,819.13 L1873.09,819.13 L1891.81,814.00 L1910.54,823.05 L1929.26,814.00 L1947.99,822.14 L1966.71,829.68 L1985.44,828.17 L2004.16,816.11 L2022.89,832.70 L2041.61,855.32 L2060.34,848.38 L2079.06,849.29 L2097.79,849.89 L2116.51,862.86 L2135.23,867.38 L2153.96,865.27 L2172.68,874.32 L2191.41,882.46 L2210.13,886.38 L2228.86,890.60 L2247.58,902.06 L2266.31,900.56 L2285.03,896.03 L2303.76,890.00 L2322.48,883.97 L2341.21,883.97 L2359.93,893.02 L2378.66,900.56 L2397.38,902.06" fill="none" stroke="#808080" stroke-opacity="0.3" stroke-width="3.125" stroke-linejoin="round" stroke-linecap="square"/>
<path d="M450.00,764.29 L468.72,746.43 L487.45,768.57 L506.17,773.33 L524.90,778.10 L543.62,784.52 L562.35,791.19 L581.07,793.33 L599.80,794.05 L618.52,794.76 L637.25,793.33 L655.97,794.05 L674.70,795.24 L693.42,797.62 L712.15,795.24 L730.87,792.86 L749.60,792.38 L768.32,788.10 L787.05,785.71 L805.77,784.52 L824.50,789.29 L843.22,792.86 L861.95,795.24 L880.67,796.43 L899.40,797.62 L918.12,800.00 L936.85,801.19 L955.57,802.38 L974.30,804.76 L993.02,805.95 L1011.74,811.90 L1030.47,819.68 L1049.19,823.65 L1067.92,820.63 L1086.64,826.67 L1105.37,817.62 L1124.09,820.03 L1142.82,822.14 L1161.54,821.24 L1180.27,821.24 L1198.99,818.22 L1217.72,819.13 L1236.44,820.03 L1255.17,821.24 L1273.89,823.05 L1292.62,819.13 L1311.34,822.14 L1330.07,812.19 L1348.79,820.63 L1367.52,812.19 L1386.24,813.10 L1404.97,815.51 L1423.69,816.11 L1442.42,813.10 L1461.14,814.60 L1479.87,819.13 L1498.59,819.13 L1517.32,809.17 L1536.04,810.08 L1554.77,810.98 L1573.49,819.13 L1592.21,826.67 L1610.94,832.70 L1629.66,832.70 L1648.39,834.21 L1667.11,837.22 L1685.84,832.70 L1704.56,829.68 L1723.29,832.10 L1742.01,828.63 L1760.74,830.74 L1779.46,838.73 L1798.19,834.21 L1816.91,840.24 L1835.64,832.70 L1854.36,844.16 L1873.09,847.78 L1891.81,862.25 L1910.54,862.86 L1929.26,868.89 L1947.99,867.38 L1966.71,873.41 L1985.44,875.52 L2004.16,874.32 L2022.89,874.92 L2041.61,875.52 L2060.34,880.35 L2079.06,880.95 L2097.79,880.35 L2116.51,883.37 L2135.23,883.97 L2153.96,886.38 L2172.68,888.49 L2191.41,891.51 L2210.13,899.05 L2228.86,893.02 L2247.58,888.49 L2266.31,886.38 L2285.03,880.95 L2303.76,871.30 L2322.48,870.40 L2341.21,870.40 L2359.93,884.57 L2378.66,896.03 L2397.38,899.05 L2416.11,900.56 L2434.83,899.65 L2453.56,899.05 L2472.28,897.54 L2491.01,879.44" fill="none" stroke="#808080" stroke-opacity="0.3" stroke-width="3.125" stroke-linejoin="round" stroke-linecap="square"/>
<path d="M450.00,801.07 L468.72,801.07 L487.45,800.48 L506.17,787.38 L524.90,798.69 L543.62,814.76 L562.35,814.52 L581.07,813.57 L599.80,810.00 L618.52,810.60 L637.25,812.62 L655.97,813.57 L674.70,815.95 L693.42,811.19 L712.15,812.98 L730.87,813.57 L749.60,824.52 L768.32,824.05 L787.05,819.76 L805.77,815.00 L824.50,818.10 L843.22,811.43 L861.95,814.29 L880.67,810.95 L899.40,816.19 L918.12,817.38 L936.85,817.38 L955.57,824.52 L974.30,829.29 L993.02,832.86 L1011.74,835.24 L1030.47,840.12 L1049.19,844.76 L1067.92,845.37 L1086.64,844.76 L1105.37,840.24 L1124.09,839.63 L1142.82,844.76 L1161.54,838.13 L1180.27,844.76 L1198.99,846.87 L1217.72,847.17 L1236.44,844.16 L1255.17,848.38 L1273.89,843.25 L1292.62,838.13 L1311.34,840.24 L1330.07,841.75 L1348.79,846.27 L1367.52,832.70 L1386.24,835.71 L1404.97,847.17 L1423.69,841.75 L1442.42,847.78 L1461.14,854.41 L1479.87,859.24 L1498.59,854.41 L1517.32,856.22 L1536.04,855.32 L1554.77,857.43 L1573.49,857.43 L1592.21,859.24 L1610.94,867.98 L1629.66,866.48 L1648.39,866.48 L1667.11,874.32 L1685.84,882.46 L1704.56,874.32 L1723.29,877.94 L1742.01,879.90 L1760.74,885.93 L1779.46,885.48 L1798.19,870.40 L1816.91,875.52 L1835.64,874.02 L1854.36,873.41 L1873.09,879.44 L1891.81,885.48 L1910.54,888.49 L1929.26,894.52 L1947.99,890.60 L1966.71,891.51 L1985.44,897.54 L2004.16,903.57 L2022.89,905.98 L2041.61,903.57 L2060.34,909.60 L2079.06,917.14 L2097.79,908.10 L2116.51,915.63 L2135.23,913.52 L2153.96,920.16 L2172.68,921.06 L2191.41,921.06 L2210.13,929.81 L2228.86,925.59 L2247.58,936.75 L2266.31,941.87 L2285.03,945.79 L2303.76,934.63 L2322.48,926.79 L2341.21,920.76 L2359.93,928.60 L2378.66,924.68 L2397.38,932.22 L2416.11,937.65 L2434.83,930.71 L2453.56,931.62 L2472.28,936.75 L2491.01,925.59" fill="none" stroke="#808080" stroke-opacity="0.3" stroke-width="3.125" stroke-linejoin="round" stroke-linecap="square"/>
<path d="M450.00,961.90 L468.72,968.57 L487.45,972.62 L506.17,964.76 L524.90,966.19 L543.62,983.33 L562.35,988.57 L581.07,988.10 L599.80,987.38 L618.52,983.33 L637.25,989.29 L655.97,991.67 L674.70,1000.00 L693.42,1000.48 L712.15,1005.95 L730.87,1007.14 L749.60,1005.24 L768.32,994.05 L787.05,992.38 L805.77,993.33 L824.50,1004.76 L843.22,1001.90 L861.95,996.43 L880.67,1000.48 L899.40,1016.67 L918.12,1025.71 L936.85,1021.90 L955.57,1029.76 L974.30,1041.67 L993.02,1047.62 L1011.74,1052.78 L1030.47,1049.17 L1049.19,1047.43 L1067.92,1051.35 L1086.64,1049.24 L1105.37,1040.79 L1124.09,1040.19 L1142.82,1043.21 L1161.54,1036.27 L1180.27,1044.41 L1198.99,1043.21 L1217.72,1044.71 L1236.44,1042.30 L1255.17,1038.38 L1273.89,1036.27 L1292.62,1031.75 L1311.34,1033.86 L1330.07,1024.21 L1348.79,1022.70 L1367.52,1014.56 L1386.24,1023.60 L1404.97,1023.30 L1423.69,1015.16 L1442.42,1011.54 L1461.14,1016.06 L1479.87,1019.68 L1498.59,1019.68 L1517.32,1019.08 L1536.04,1019.08 L1554.77,1011.54 L1573.49,1019.68 L1592.21,1025.71 L1610.94,1026.32 L1629.66,1025.11 L1648.39,1030.24 L1667.11,1034.76 L1685.84,1034.16 L1704.56,1030.24 L1723.29,1039.29 L1742.01,1037.02 L1760.74,1033.71 L1779.46,1038.38 L1798.19,1033.25 L1816.91,1043.81 L1835.64,1048.33 L1854.36,1060.40 L1873.09,1064.92 L1891.81,1081.51 L1910.54,1083.02 L1929.26,1094.48 L1947.99,1087.54 L1966.71,1089.65 L1985.44,1094.48 L2004.16,1095.68 L2022.89,1094.48 L2041.61,1088.44 L2060.34,1095.68 L2079.06,1099.60 L2097.79,1090.56 L2116.51,1092.97 L2135.23,1089.05 L2153.96,1089.95 L2172.68,1092.06 L2191.41,1097.49 L2210.13,1102.62 L2228.86,1095.08 L2247.58,1099.60 L2266.31,1104.13 L2285.03,1101.71 L2303.76,1088.44 L2322.48,1079.40 L2341.21,1071.56 L2359.93,1081.51 L2378.66,1078.49 L2397.38,1074.57 L2416.11,1073.97 L2434.83,1061.90 L2453.56,1059.49 L2472.28,1062.51 L2491.01,1043.21" fill="none" stroke="#808080" stroke-opacity="0.3" stroke-width="3.125" stroke-linejoin="round" stroke-linecap="square"/>
<path d="M1367.52,552.81 L1386.24,551.30 L1404.97,543.76 L1423.69,536.83 L1442.42,543.76 L1461.14,538.33 L1479.87,538.63 L1498.59,548.29 L1517.32,549.79 L1536.04,551.90 L1554.77,555.22 L1573.49,543.16 L1592.21,546.17 L1610.94,531.70 L1629.66,532.30 L1648.39,541.65 L1667.11,534.11 L1685.84,527.78 L1704.56,527.17 L1723.29,529.29 L1742.01,530.79 L1760.74,539.24 L1779.46,554.92 L1798.19,557.33 L1816.91,561.86 L1835.64,560.35 L1854.36,560.35 L1873.09,559.75 L1891.81,563.97 L1910.54,573.92" fill="none" stroke="#808080" stroke-opacity="0.3" stroke-width="3.125" stroke-linejoin="round" stroke-linecap="square"/>
<path d="M3090.20,693.65 L3108.93,696.06 L3127.65,704.21 L3146.38,713.25 L3165.10,719.29 L3183.83,728.33 L3202.55,729.84 L3221.28,722.30 L3240.00,720.79" fill="none" stroke="#808080" stroke-opacity="0.3" stroke-width="3.125" stroke-linejoin="round" stroke-linecap="square"/>
<path d="M1367.52,745.24 L1386.24,746.75 L1404.97,750.67 L1423.69,754.29 L1442.42,753.68 L1461.14,755.79 L1479.87,757.30 L1498.59,757.30 L1517.32,757.90 L1536.04,758.81 L1554.77,758.81 L1573.49,760.32 L1592.21,763.33 L1610.94,764.84 L1629.66,768.76 L1648.39,769.97 L1667.11,770.87 L1685.84,772.98 L1704.56,772.98 L1723.29,779.02 L1742.01,779.92 L1760.74,782.18 L1779.46,786.86 L1798.19,784.44 L1816.91,795.90 L1835.64,790.48 L1854.36,793.49 L1873.09,796.51 L1891.81,797.41 L1910.54,799.52 L1929.26,807.06 L1947.99,802.54 L1966.71,804.95 L1985.44,801.03 L2004.16,804.05 L2022.89,810.08 L2041.61,810.08 L2060.34,810.08 L2079.06,810.08 L2097.79,807.97 L2116.51,811.59 L2135.23,813.10 L2153.96,817.62 L2172.68,814.00 L2191.41,817.02 L2210.13,817.02 L2228.86,820.63 L2247.58,820.63 L2266.31,816.11 L2285.03,820.03 L2303.76,820.63 L2322.48,820.03 L2341.21,826.06 L2359.93,822.14 L2378.66,820.03 L2397.38,819.13 L2416.11,820.03 L2434.83,826.67 L2453.56,825.16 L2472.28,821.24 L2491.01,823.05" fill="none" stroke="#808080" stroke-opacity="0.3" stroke-width="3.125" stroke-linejoin="round" stroke-linecap="square"/>
<path d="M1742.01,832.70 L1760.74,835.11 L1779.46,837.22 L1798.19,832.70 L1816.91,838.13 L1835.64,843.25 L1854.36,852.30 L1873.09,856.83 L1891.81,864.37 L1910.54,867.38 L1929.26,876.43 L1947.99,873.41 L1966.71,883.37 L1985.44,886.98 L2004.16,882.46 L2022.89,880.95 L2041.61,883.97 L2060.34,882.46 L2079.06,878.54 L2097.79,873.41 L2116.51,867.38 L2135.23,862.86 L2153.96,853.81 L2172.68,856.22 L2191.41,859.84 L2210.13,862.25 L2228.86,856.83 L2247.58,870.40 L2266.31,874.92 L2285.03,879.44 L2303.76,883.37 L2322.48,883.97 L2341.21,890.00 L2359.93,902.67 L2378.66,888.49 L2397.38,890.00 L2416.11,891.51 L2434.83,884.57 L2453.56,888.49 L2472.28,898.44" fill="none" stroke="#808080" stroke-opacity="0.3" stroke-width="3.125" stroke-linejoin="round" stroke-linecap="square"/>
<path d="M2491.01,1042.30 L2509.73,1052.25 L2528.46,1049.84 L2547.18,1057.38 L2565.91,1058.89 L2584.63,1056.48 L2603.36,1060.40 L2622.08,1049.84 L2640.81,1042.30 L2659.53,1053.46 L2678.26,1057.38 L2696.98,1059.49 L2715.70,1055.27 L2734.43,1051.35 L2753.15,1060.40 L2771.88,1064.02 L2790.60,1063.41 L2809.33,1063.41 L2828.05,1062.51 L2846.78,1066.43 L2865.50,1088.44 L2884.23,1101.11 L2902.95,1105.63 L2921.68,1098.70 L2940.40,1092.67 L2959.13,1091.46 L2977.85,1091.46 L2996.58,1097.49 L3015.30,1100.51 L3034.03,1098.70 L3052.75,1115.59 L3071.48,1109.56 L3090.20,1109.56 L3108.93,1104.13 L3127.65,1099.60 L3146.38,1107.75 L3165.10,1102.62 L3183.83,1113.78 L3202.55,1125.24 L3221.28,1123.73 L3240.00,1118.60" fill="none" stroke="#808080" stroke-opacity="0.3" stroke-width="3.125" stroke-linejoin="round" stroke-linecap="square"/>
<path d="M2491.01,924.68 L2509.73,939.76 L2528.46,942.78 L2547.18,941.87 L2565.91,932.22 L2584.63,935.84 L2603.36,935.84 L2622.08,930.71 L2640.81,919.56 L2659.53,918.65 L2678.26,921.06 L2696.98,926.19 L2715.70,911.11 L2734.43,912.62 L2753.15,914.73 L2771.88,912.62 L2790.60,915.63 L2809.33,915.63 L2828.05,921.67 L2846.78,924.68 L2865.50,941.27 L2884.23,951.83 L2902.95,953.33 L2921.68,951.22 L2940.40,941.27 L2959.13,936.75 L2977.85,933.73 L2996.58,933.73 L3015.30,936.75 L3034.03,935.24 L3052.75,945.79 L3071.48,940.67 L3090.20,938.25 L3108.93,934.63 L3127.65,939.76 L3146.38,936.75 L3165.10,934.63 L3183.83,939.76 L3202.55,950.32 L3221.28,969.92 L3240.00,972.94" fill="none" stroke="#808080" stroke-opacity="0.3" stroke-width="3.125" stroke-linejoin="round" stroke-linecap="square"/>
<path d="M2491.01,823.05 L2509.73,823.65 L2528.46,826.67 L2547.18,833.30 L2565.91,831.79 L2584.63,823.65 L2603.36,821.24 L2622.08,822.14 L2640.81,825.16 L2659.53,832.70 L2678.26,839.33 L2696.98,835.11 L2715.70,835.71 L2734.43,840.24 L2753.15,849.29 L2771.88,844.76 L2790.60,843.25 L2809.33,843.25 L2828.05,840.24 L2846.78,846.27 L2865.50,856.83 L2884.23,862.86 L2902.95,865.87 L2921.68,871.30 L2940.40,867.98 L2959.13,867.98 L2977.85,868.89 L2996.58,870.40 L3015.30,873.41 L3034.03,870.40 L3052.75,883.97 L3071.48,884.57 L3090.20,887.59 L3108.93,880.95 L3127.65,881.56 L3146.38,882.46 L3165.10,875.52 L3183.83,883.97 L3202.55,894.52 L3221.28,890.00 L3240.00,885.48" fill="none" stroke="#808080" stroke-opacity="0.3" stroke-width="3.125" stroke-linejoin="round" stroke-linecap="square"/>
<path d="M2491.01,835.71 L2509.73,843.25 L2528.46,841.75 L2547.18,844.16 L2565.91,841.14 L2584.63,841.75 L2603.36,851.40 L2622.08,847.17 L2640.81,842.35 L2659.53,847.17 L2678.26,846.27 L2696.98,842.35 L2715.70,839.33 L2734.43,839.33 L2753.15,839.33 L2771.88,838.13 L2790.60,833.30 L2809.33,834.21 L2828.05,838.73 L2846.78,837.22 L2865.50,838.73 L2884.23,838.13 L2902.95,836.32 L2921.68,843.25 L2940.40,843.25 L2959.13,848.38 L2977.85,846.27 L2996.58,839.33 L3015.30,843.25 L3034.03,847.78 L3052.75,853.21 L3071.48,852.30 L3090.20,855.92 L3108.93,852.30 L3127.65,855.32 L3146.38,862.86 L3165.10,865.87 L3183.83,862.25 L3202.55,864.37 L3221.28,859.84 L3240.00,855.32" fill="none" stroke="#808080" stroke-opacity="0.3" stroke-width="3.125" stroke-linejoin="round" stroke-linecap="square"/>
<path d="M2491.01,880.95 L2509.73,883.67 L2528.46,875.98 L2547.18,880.65 L2565.91,883.21 L2584.63,887.74 L2603.36,890.60 L2622.08,882.46 L2640.81,880.65 L2659.53,884.72 L2678.26,883.97 L2696.98,878.69 L2715.70,872.36 L2734.43,870.40 L2753.15,873.11 L2771.88,875.37 L2790.60,871.45 L2809.33,869.79 L2828.05,875.67 L2846.78,883.21 L2865.50,897.54 L2884.23,908.40 L2902.95,904.33 L2921.68,901.31 L2940.40,886.98 L2959.13,879.90 L2977.85,876.88 L2996.58,876.43 L3015.30,877.63 L3034.03,875.98 L3052.75,888.04 L3071.48,888.79 L3090.20,891.81 L3108.93,892.26 L3127.65,892.71 L3146.38,893.02 L3165.10,887.74 L3183.83,897.54 L3202.55,902.82 L3221.28,900.56 L3240.00,896.79" fill="none" stroke="#808080" stroke-opacity="0.3" stroke-width="3.125" stroke-linejoin="round" stroke-linecap="square"/>
<path d="M2491.01,897.54 L2509.73,895.43 L2528.46,888.49 L2547.18,900.56 L2565.91,905.68 L2584.63,886.98 L2603.36,885.48 L2622.08,893.02 L2640.81,901.46 L2659.53,899.05 L2678.26,896.03 L2696.98,896.03 L2715.70,893.02 L2734.43,896.63 L2753.15,905.08 L2771.88,898.44 L2790.60,902.67 L2809.33,911.11 L2828.05,914.73 L2846.78,917.14 L2865.50,922.57 L2884.23,911.11 L2902.95,905.08 L2921.68,899.65 L2940.40,882.46 L2959.13,885.48 L2977.85,893.02 L2996.58,900.56 L3015.30,906.59 L3034.03,914.73 L3052.75,909.60 L3071.48,911.11 L3090.20,916.54 L3108.93,907.49 L3127.65,908.10 L3146.38,933.73 L3165.10,920.16 L3183.83,909.60 L3202.55,905.08 L3221.28,908.10 L3240.00,914.13" fill="none" stroke="#808080" stroke-opacity="0.3" stroke-width="3.125" stroke-linejoin="round" stroke-linecap="square"/>
<path d="M1910.54,574.90 L1929.26,579.85 L1947.99,582.68 L1966.71,578.08 L1985.44,575.61 L2004.16,575.61 L2022.89,580.21 L2041.61,578.08 L2060.34,567.47 L2079.06,565.70 L2097.79,559.69 L2116.51,556.15 L2135.23,568.53 L2153.96,566.76 L2172.68,571.36 L2191.41,566.05 L2210.13,565.70 L2228.86,566.76 L2247.58,575.61 L2266.31,572.07 L2285.03,566.76 L2303.76,565.70 L2322.48,564.28 L2341.21,565.70 L2359.93,566.05 L2378.66,566.76 L2397.38,569.59" fill="none" stroke="#808080" stroke-opacity="0.3" stroke-width="3.125" stroke-linejoin="round" stroke-linecap="square"/>
<path d="M450.00,799.05 L468.72,799.76 L487.45,793.74 L506.17,783.13 L524.90,790.20 L543.62,791.97 L562.35,792.68 L581.07,793.74 L599.80,794.45 L618.52,801.88 L637.25,799.05 L655.97,807.90 L674.70,799.76 L693.42,798.34 L712.15,802.59 L730.87,807.90 L749.60,813.20 L768.32,813.20 L787.05,807.90 L805.77,810.37 L824.50,810.37 L843.22,803.65 L861.95,798.34 L880.67,806.83 L899.40,806.13 L918.12,810.37 L936.85,812.14 L955.57,823.11 L974.30,825.59 L993.02,825.59 L1011.74,830.89 L1030.47,830.89 L1049.19,831.60 L1067.92,837.26 L1086.64,834.43 L1105.37,830.19 L1124.09,825.59 L1142.82,828.06 L1161.54,829.12 L1180.27,830.89 L1198.99,835.32 L1217.72,829.12 L1236.44,840.80 L1255.17,838.68 L1273.89,832.66 L1292.62,837.97 L1311.34,845.05 L1330.07,839.03 L1348.79,839.03 L1367.52,823.82 L1386.24,822.76 L1404.97,823.82 L1423.69,823.82 L1442.42,821.34 L1461.14,822.76 L1479.87,829.12 L1498.59,827.36 L1517.32,828.06 L1536.04,835.14 L1554.77,834.43 L1573.49,833.72 L1592.21,836.55 L1610.94,836.55 L1629.66,850.35 L1648.39,854.60 L1667.11,860.97 L1685.84,854.95 L1704.56,848.58 L1723.29,855.66 L1742.01,854.60 L1760.74,859.20 L1779.46,867.34 L1798.19,868.04 L1816.91,872.29 L1835.64,869.11 L1854.36,871.58 L1873.09,872.64 L1891.81,887.50 L1910.54,883.26 L1929.26,896.00 L1947.99,892.10 L1966.71,888.21 L1985.44,889.27 L2004.16,891.04 L2022.89,889.27 L2041.61,883.97 L2060.34,891.04 L2079.06,900.95 L2097.79,899.89 L2116.51,904.49 L2135.23,899.89 L2153.96,900.60 L2172.68,898.12 L2191.41,900.95 L2210.13,906.26 L2228.86,903.43 L2247.58,910.50 L2266.31,910.50 L2285.03,907.67 L2303.76,904.49 L2322.48,896.35 L2341.21,889.98 L2359.93,898.12 L2378.66,905.90 L2397.38,905.90 L2416.11,906.96 L2434.83,906.96 L2453.56,901.66 L2472.28,903.43 L2491.01,902.36 L2509.73,908.38 L2528.46,906.96 L2547.18,908.73 L2565.91,910.50 L2584.63,903.43 L2603.36,908.73 L2622.08,905.20 L2640.81,905.20 L2659.53,903.43 L2678.26,902.01 L2696.98,900.95 L2715.70,906.96 L2734.43,911.56 L2753.15,908.03 L2771.88,909.44 L2790.60,911.56 L2809.33,914.04 L2828.05,915.10 L2846.78,917.58 L2865.50,936.33 L2884.23,937.04 L2902.95,938.81 L2921.68,934.21 L2940.40,925.72 L2959.13,924.66 L2977.85,922.18 L2996.58,917.58 L3015.30,919.35 L3034.03,920.41 L3052.75,922.18 L3071.48,919.35 L3090.20,931.73 L3108.93,929.26 L3127.65,929.96 L3146.38,934.21 L3165.10,929.96 L3183.83,935.27 L3202.55,949.42 L3221.28,970.65 L3240.00,967.11" fill="none" stroke="#808080" stroke-width="4.17" stroke-linejoin="round" stroke-linecap="square"/>
<path d="M450.00,522.36 L468.72,524.84 L487.45,521.30 L506.17,521.30 L524.90,520.60 L543.62,525.55 L562.35,524.84 L581.07,524.13 L599.80,531.92 L618.52,533.69 L637.25,534.39 L655.97,535.46 L674.70,537.23 L693.42,535.81 L712.15,534.75 L730.87,540.76 L749.60,546.07 L768.32,552.09 L787.05,560.22 L805.77,558.45 L824.50,563.76 L843.22,564.82 L861.95,564.12 L880.67,557.04 L899.40,556.69 L918.12,560.22 L936.85,564.82 L955.57,570.84 L974.30,571.90 L993.02,566.59 L1011.74,566.24 L1030.47,560.22 L1049.19,546.78 L1067.92,554.21 L1086.64,556.69 L1105.37,552.09 L1124.09,557.39 L1142.82,561.99 L1161.54,562.70 L1180.27,563.76 L1198.99,554.03 L1217.72,550.32 L1236.44,552.09 L1255.17,552.09 L1273.89,555.62 L1292.62,548.55 L1311.34,554.21 L1330.07,558.45 L1348.79,555.62 L1367.52,550.67 L1386.24,549.61 L1404.97,541.82 L1423.69,534.75 L1442.42,541.47 L1461.14,536.16 L1479.87,536.52 L1498.59,545.36 L1517.32,547.13 L1536.04,549.26 L1554.77,553.15 L1573.49,540.76 L1592.21,543.59 L1610.94,530.15 L1629.66,530.15 L1648.39,539.70 L1667.11,531.92 L1685.84,525.55 L1704.56,524.84 L1723.29,526.61 L1742.01,528.38 L1760.74,537.23 L1779.46,553.15 L1798.19,555.98 L1816.91,559.52 L1835.64,558.45 L1854.36,558.45 L1873.09,557.75 L1891.81,561.99 L1910.54,571.90 L1929.26,576.85 L1947.99,579.68 L1966.71,575.08 L1985.44,572.61 L2004.16,572.61 L2022.89,577.21 L2041.61,575.08 L2060.34,564.47 L2079.06,562.70 L2097.79,556.69 L2116.51,553.15 L2135.23,565.53 L2153.96,563.76 L2172.68,568.36 L2191.41,563.05 L2210.13,562.70 L2228.86,563.76 L2247.58,572.61 L2266.31,569.07 L2285.03,563.76 L2303.76,562.70 L2322.48,561.28 L2341.21,562.70 L2359.93,563.05 L2378.66,563.76 L2397.38,566.59 L2416.11,566.24 L2434.83,564.82 L2453.56,560.22 L2472.28,547.13 L2491.01,543.06 L2509.73,537.58 L2528.46,528.38 L2547.18,534.57 L2565.91,536.52 L2584.63,526.61 L2603.36,521.30 L2622.08,517.77 L2640.81,521.30 L2659.53,529.44 L2678.26,526.26 L2696.98,520.24 L2715.70,529.44 L2734.43,529.44 L2753.15,526.61 L2771.88,523.07 L2790.60,516.00 L2809.33,518.47 L2828.05,521.30 L2846.78,524.13 L2865.50,519.53 L2884.23,511.75 L2902.95,514.93 L2921.68,506.44 L2940.40,496.54 L2959.13,497.60 L2977.85,493.00 L2996.58,487.69 L3015.30,486.63 L3034.03,489.46 L3052.75,491.23 L3071.48,493.00 L3090.20,501.84 L3108.93,494.77 L3127.65,493.71 L3146.38,499.37 L3165.10,504.67 L3183.83,517.77 L3202.55,509.63 L3221.28,501.84 L3240.00,504.67" fill="none" stroke="#808080" stroke-width="4.17" stroke-linejoin="round" stroke-linecap="square"/>
<path d="M450.00,699.98 L468.72,696.44 L487.45,695.74 L506.17,704.58 L524.90,708.12 L543.62,711.66 L562.35,714.13 L581.07,716.61 L599.80,716.26 L618.52,714.84 L637.25,715.90 L655.97,722.27 L674.70,722.63 L693.42,721.92 L712.15,719.09 L730.87,721.21 L749.60,722.98 L768.32,728.29 L787.05,729.35 L805.77,730.76 L824.50,728.64 L843.22,726.52 L861.95,730.06 L880.67,736.07 L899.40,740.67 L918.12,743.15 L936.85,743.15 L955.57,742.44 L974.30,744.21 L993.02,745.27 L1011.74,750.58 L1030.47,755.88 L1049.19,760.84 L1067.92,753.05 L1086.64,751.28 L1105.37,748.45 L1124.09,751.28 L1142.82,751.28 L1161.54,750.58 L1180.27,757.30 L1198.99,751.28 L1217.72,747.04 L1236.44,750.58 L1255.17,753.05 L1273.89,755.88 L1292.62,752.35 L1311.34,749.87 L1330.07,748.45 L1348.79,747.04 L1367.52,741.02 L1386.24,739.61 L1404.97,742.44 L1423.69,741.73 L1442.42,740.67 L1461.14,739.96 L1479.87,747.75 L1498.59,753.76 L1517.32,754.82 L1536.04,755.88 L1554.77,753.05 L1573.49,750.22 L1592.21,753.05 L1610.94,745.98 L1629.66,744.21 L1648.39,745.27 L1667.11,748.10 L1685.84,742.44 L1704.56,740.67 L1723.29,741.73 L1742.01,739.61 L1760.74,738.19 L1779.46,745.27 L1798.19,748.10 L1816.91,749.52 L1835.64,752.35 L1854.36,760.13 L1873.09,757.65 L1891.81,759.42 L1910.54,766.50 L1929.26,767.21 L1947.99,770.04 L1966.71,773.22 L1985.44,773.58 L2004.16,772.51 L2022.89,774.28 L2041.61,768.98 L2060.34,764.38 L2079.06,762.96 L2097.79,760.13 L2116.51,761.90 L2135.23,767.21 L2153.96,764.73 L2172.68,760.13 L2191.41,768.27 L2210.13,764.73 L2228.86,763.67 L2247.58,763.67 L2266.31,760.84 L2285.03,764.38 L2303.76,770.74 L2322.48,776.05 L2341.21,776.05 L2359.93,767.21 L2378.66,772.51 L2397.38,761.90 L2416.11,760.84 L2434.83,770.04 L2453.56,764.38 L2472.28,761.90 L2491.01,764.55 L2509.73,766.32 L2528.46,770.74 L2547.18,773.22 L2565.91,771.45 L2584.63,762.61 L2603.36,760.13 L2622.08,759.42 L2640.81,763.14 L2659.53,768.62 L2678.26,774.28 L2696.98,769.68 L2715.70,774.28 L2734.43,775.70 L2753.15,779.59 L2771.88,784.19 L2790.60,783.13 L2809.33,787.73 L2828.05,792.68 L2846.78,791.97 L2865.50,787.73 L2884.23,784.90 L2902.95,781.36 L2921.68,784.19 L2940.40,781.36 L2959.13,786.67 L2977.85,782.42 L2996.58,778.53 L3015.30,782.07 L3034.03,784.90 L3052.75,787.73 L3071.48,786.67 L3090.20,790.20 L3108.93,781.36 L3127.65,784.19 L3146.38,789.50 L3165.10,792.68 L3183.83,794.45 L3202.55,797.28 L3221.28,790.91 L3240.00,788.44" fill="none" stroke="#000" stroke-width="8.33" stroke-linejoin="round" stroke-linecap="square"/>
<path d="M730.87,745.98 L749.60,747.75 L768.32,742.44 L787.05,752.35 L805.77,761.90 L824.50,774.28 L843.22,779.59 L861.95,779.59 L880.67,770.04 L899.40,773.22 L918.12,763.67 L936.85,754.82 L955.57,752.35 L974.30,738.90 L993.02,731.82 L1011.74,728.29 L1030.47,725.81 L1049.19,730.76 L1067.92,721.92 L1086.64,719.44 L1105.37,721.21 L1124.09,724.04 L1142.82,730.76 L1161.54,722.98 L1180.27,731.82 L1198.99,718.20 L1217.72,720.15 L1236.44,710.60 L1255.17,698.21 L1273.89,693.61 L1292.62,682.29 L1311.34,678.04 L1330.07,678.04 L1348.79,665.66 L1367.52,652.22 L1386.24,642.31 L1404.97,632.76 L1423.69,622.85 L1442.42,613.30 L1461.14,603.74 L1479.87,594.54 L1498.59,603.74 L1517.32,595.61 L1536.04,620.37" fill="none" stroke="#008000" stroke-width="12.5" stroke-linejoin="round" stroke-linecap="square"/>
</g>
<line x1="619" y1="1838" x2="619" y2="210" stroke="#000" stroke-width="2.083" stroke-dasharray="4.1667 12.5"/>
<line x1="993" y1="1838" x2="993" y2="210" stroke="#000" stroke-width="2.083" stroke-dasharray="4.1667 12.5"/>
<line x1="1368" y1="1838" x2="1368" y2="210" stroke="#000" stroke-width="2.083" stroke-dasharray="4.1667 12.5"/>
<line x1="1742" y1="1838" x2="1742" y2="210" stroke="#000" stroke-width="2.083" stroke-dasharray="4.1667 12.5"/>
<line x1="2117" y1="1838" x2="2117" y2="210" stroke="#000" stroke-width="2.083" stroke-dasharray="4.1667 12.5"/>
<line x1="2491" y1="1838" x2="2491" y2="210" stroke="#000" stroke-width="2.083" stroke-dasharray="4.1667 12.5"/>
<line x1="2866" y1="1838" x2="2866" y2="210" stroke="#000" stroke-width="2.083" stroke-dasharray="4.1667 12.5"/>
<line x1="3240" y1="1838" x2="3240" y2="210" stroke="#000" stroke-width="2.083" stroke-dasharray="4.1667 12.5"/>
<line x1="450" y1="1838" x2="3240" y2="1838" stroke="#000" stroke-width="2.083" stroke-dasharray="4.1667 12.5"/>
<line x1="450" y1="1566" x2="3240" y2="1566" stroke="#000" stroke-width="2.083" stroke-dasharray="4.1667 12.5"/>
<line x1="450" y1="1295" x2="3240" y2="1295" stroke="#000" stroke-width="2.083" stroke-dasharray="4.1667 12.5"/>
<line x1="450" y1="1024" x2="3240" y2="1024" stroke="#000" stroke-width="2.083" stroke-dasharray="4.1667 12.5"/>
<line x1="450" y1="752" x2="3240" y2="752" stroke="#000" stroke-width="2.083" stroke-dasharray="4.1667 12.5"/>
<line x1="450" y1="481" x2="3240" y2="481" stroke="#000" stroke-width="2.083" stroke-dasharray="4.1667 12.5"/>
<line x1="450" y1="210" x2="3240" y2="210" stroke="#000" stroke-width="2.083" stroke-dasharray="4.1667 12.5"/>
<line x1="619" y1="1838" x2="619" y2="1821.10" stroke="#000" stroke-width="2.083"/>
<line x1="619" y1="210" x2="619" y2="226.90" stroke="#000" stroke-width="2.083"/>
<line x1="993" y1="1838" x2="993" y2="1821.10" stroke="#000" stroke-width="2.083"/>
<line x1="993" y1="210" x2="993" y2="226.90" stroke="#000" stroke-width="2.083"/>
<line x1="1368" y1="1838" x2="1368" y2="1821.10" stroke="#000" stroke-width="2.083"/>
<line x1="1368" y1="210" x2="1368" y2="226.90" stroke="#000" stroke-width="2.083"/>
<line x1="1742" y1="1838" x2="1742" y2="1821.10" stroke="#000" stroke-width="2.083"/>
<line x1="1742" y1="210" x2="1742" y2="226.90" stroke="#000" stroke-width="2.083"/>
<line x1="2117" y1="1838" x2="2117" y2="1821.10" stroke="#000" stroke-width="2.083"/>
<line x1="2117" y1="210" x2="2117" y2="226.90" stroke="#000" stroke-width="2.083"/>
<line x1="2491" y1="1838" x2="2491" y2="1821.10" stroke="#000" stroke-width="2.083"/>
<line x1="2491" y1="210" x2="2491" y2="226.90" stroke="#000" stroke-width="2.083"/>
<line x1="2866" y1="1838" x2="2866" y2="1821.10" stroke="#000" stroke-width="2.083"/>
<line x1="2866" y1="210" x2="2866" y2="226.90" stroke="#000" stroke-width="2.083"/>
<line x1="3240" y1="1838" x2="3240" y2="1821.10" stroke="#000" stroke-width="2.083"/>
<line x1="3240" y1="210" x2="3240" y2="226.90" stroke="#000" stroke-width="2.083"/>
<line x1="450" y1="1838" x2="466.90" y2="1838" stroke="#000" stroke-width="2.083"/>
<line x1="3240" y1="1838" x2="3223.10" y2="1838" stroke="#000" stroke-width="2.083"/>
<line x1="450" y1="1566" x2="466.90" y2="1566" stroke="#000" stroke-width="2.083"/>
<line x1="3240" y1="1566" x2="3223.10" y2="1566" stroke="#000" stroke-width="2.083"/>
<line x1="450" y1="1295" x2="466.90" y2="1295" stroke="#000" stroke-width="2.083"/>
<line x1="3240" y1="1295" x2="3223.10" y2="1295" stroke="#000" stroke-width="2.083"/>
<line x1="450" y1="1024" x2="466.90" y2="1024" stroke="#000" stroke-width="2.083"/>
<line x1="3240" y1="1024" x2="3223.10" y2="1024" stroke="#000" stroke-width="2.083"/>
<line x1="450" y1="752" x2="466.90" y2="752" stroke="#000" stroke-width="2.083"/>
<line x1="3240" y1="752" x2="3223.10" y2="752" stroke="#000" stroke-width="2.083"/>
<line x1="450" y1="481" x2="466.90" y2="481" stroke="#000" stroke-width="2.083"/>
<line x1="3240" y1="481" x2="3223.10" y2="481" stroke="#000" stroke-width="2.083"/>
<line x1="450" y1="210" x2="466.90" y2="210" stroke="#000" stroke-width="2.083"/>
<line x1="3240" y1="210" x2="3223.10" y2="210" stroke="#000" stroke-width="2.083"/>
<rect x="450" y="210" width="2790" height="1628" fill="none" stroke="#000" stroke-width="4.17"/>
<text x="618.52" y="1895.50" font-family="Liberation Serif, serif" font-size="58.33" text-anchor="middle">1960</text>
<text x="993.02" y="1895.50" font-family="Liberation Serif, serif" font-size="58.33" text-anchor="middle">1980</text>
<text x="1367.52" y="1895.50" font-family="Liberation Serif, serif" font-size="58.33" text-anchor="middle">2000</text>
<text x="1742.01" y="1895.50" font-family="Liberation Serif, serif" font-size="58.33" text-anchor="middle">2020</text>
<text x="2116.51" y="1895.50" font-family="Liberation Serif, serif" font-size="58.33" text-anchor="middle">2040</text>
<text x="2491.01" y="1895.50" font-family="Liberation Serif, serif" font-size="58.33" text-anchor="middle">2060</text>
<text x="2865.50" y="1895.50" font-family="Liberation Serif, serif" font-size="58.33" text-anchor="middle">2080</text>
<text x="3240.00" y="1895.50" font-family="Liberation Serif, serif" font-size="58.33" text-anchor="middle">2100</text>
<text x="433.30" y="1852.00" font-family="Liberation Serif, serif" font-size="58.33" text-anchor="end">0</text>
<text x="433.30" y="1580.75" font-family="Liberation Serif, serif" font-size="58.33" text-anchor="end">50</text>
<text x="433.30" y="1309.50" font-family="Liberation Serif, serif" font-size="58.33" text-anchor="end">100</text>
<text x="433.30" y="1038.25" font-family="Liberation Serif, serif" font-size="58.33" text-anchor="end">150</text>
<text x="433.30" y="767.00" font-family="Liberation Serif, serif" font-size="58.33" text-anchor="end">200</text>
<text x="433.30" y="495.75" font-family="Liberation Serif, serif" font-size="58.33" text-anchor="end">250</text>
<text x="433.30" y="224.50" font-family="Liberation Serif, serif" font-size="58.33" text-anchor="end">300</text>
<text x="1845" y="189" font-family="Liberation Serif, serif" font-size="70" text-anchor="middle">R&#363;jiena.J&#363;l</text>
<text x="1845" y="1967.6" font-family="Liberation Serif, serif" font-size="58.33" text-anchor="middle">Gads</text>
<g class="ylab">
<text transform="translate(305.2,1585.2) rotate(-90)" x="0" y="0" font-family="Liberation Serif, serif" font-size="58.33">Saules radi&#257;cija uz horizont&#257;las virsmas,</text>
<text transform="translate(306,624.2) rotate(-90) scale(1.175,1)" x="0" y="0" font-family="Liberation Serif, serif" font-size="58.33" font-style="italic">W</text>
<line x1="321" y1="563.3" x2="262.4" y2="542.9" stroke="#000" stroke-width="2.3" stroke-linecap="round"/>
<text transform="translate(306,538.9) rotate(-90) scale(1.274,1)" x="0" y="0" font-family="Liberation Serif, serif" font-size="58.33" font-style="italic">m</text>
<text transform="translate(284,483) rotate(-90) scale(0.72)" x="0" y="0" font-family="Liberation Serif, serif" font-size="58.33">2</text>
</g>
<rect x="485.00" y="1386.00" width="590.00" height="417.00" fill="#fff" stroke="#000" stroke-width="4.17"/>
<line x1="534.30" y1="1438.00" x2="632.00" y2="1438.00" stroke="#808080" stroke-width="4.17" stroke-linecap="square"/>
<text x="709.00" y="1461.90" font-family="Liberation Serif, serif" font-size="70">13%</text>
<line x1="534.30" y1="1537.00" x2="632.00" y2="1537.00" stroke="#808080" stroke-width="4.17" stroke-linecap="square"/>
<text x="709.00" y="1561.40" font-family="Liberation Serif, serif" font-size="70">87%</text>
<line x1="534.30" y1="1636.00" x2="632.00" y2="1636.00" stroke="#000" stroke-width="8.33" stroke-linecap="square"/>
<text x="709.00" y="1660.90" font-family="Liberation Serif, serif" font-size="70">Medi&#257;na</text>
<line x1="534.30" y1="1735.50" x2="632.00" y2="1735.50" stroke="#008000" stroke-width="12.50" stroke-linecap="square"/>
<text x="709.00" y="1760.40" font-family="Liberation Serif, serif" font-size="70">Nov&#275;rojumi</text>
</svg>
</body></html>
